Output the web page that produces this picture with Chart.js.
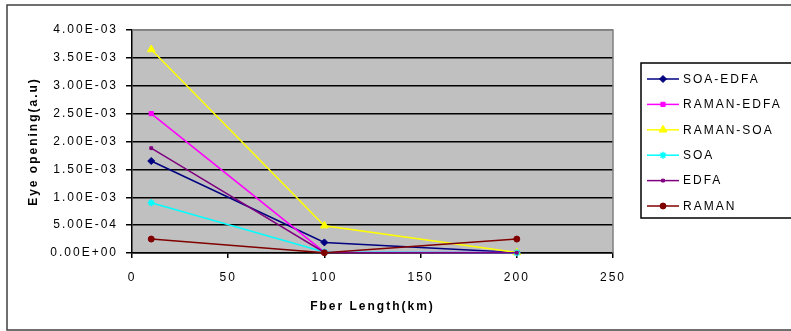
<!DOCTYPE html>
<html><head><meta charset="utf-8">
<script src="https://cdn.jsdelivr.net/npm/chart.js@4.4.1/dist/chart.umd.min.js"></script>
<style>html,body{margin:0;padding:0;background:#fff;overflow:hidden}</style>
</head><body>
<canvas id="c" width="791" height="331" style="display:block;width:791px;height:331px"></canvas>
<script>
// ---- data ----
const seriesNames = ['SOA-EDFA', 'RAMAN-EDFA', 'RAMAN-SOA', 'SOA', 'EDFA', 'RAMAN'];
const fiberLengthKm = [10, 100, 200];
const soaEdfa   = [1.65e-3, 1.9e-4, 1.0e-5];
const ramanEdfa = [2.50e-3, 1.5e-5, 1.0e-5];
const ramanSoa  = [3.65e-3, 4.9e-4, 1.0e-5];
const soa       = [9.0e-4,  2.0e-5, 5.0e-6];
const edfa      = [1.88e-3, 1.0e-5, 5.0e-6];
const raman     = [2.5e-4,  5.0e-6, 2.5e-4];
const yTickLabels = ['0.00E+00','5.00E-04','1.00E-03','1.50E-03','2.00E-03','2.50E-03','3.00E-03','3.50E-03','4.00E-03'];
const xTickLabels = ['0','50','100','150','200','250'];

const seriesValues = [soaEdfa, ramanEdfa, ramanSoa, soa, edfa, raman];
const seriesColors = ['#000080', '#FF00FF', '#FFFF00', '#00FFFF', '#800080', '#800000'];
const seriesMarkers = ['rectRot', 'rect', 'triangle', 'star', 'rect', 'circle'];
const seriesRadius = [3.5, 3, 4.5, 3.5, 2, 3];

const FONT = '"Liberation Sans", Arial, sans-serif';
const LS = '2px';

const datasets = seriesNames.map((name, i) => ({
  label: name,
  data: fiberLengthKm.map((x, k) => ({x: x, y: seriesValues[i][k]})),
  borderColor: seriesColors[i],
  backgroundColor: seriesColors[i],
  pointBackgroundColor: seriesColors[i],
  pointBorderColor: seriesColors[i],
  pointStyle: seriesMarkers[i],
  pointRadius: seriesRadius[i],
  pointBorderWidth: i === 3 ? 1.5 : 1,
  borderWidth: 1.5,
  tension: 0,
  fill: false,
  clip: false,
  order: seriesNames.length - i
}));

const framePlugin = {
  id: 'frame',
  beforeLayout(chart) { chart.ctx.letterSpacing = LS; },
  beforeDraw(chart) {
    const ctx = chart.ctx, a = chart.chartArea;
    ctx.letterSpacing = LS;
    ctx.save();
    ctx.fillStyle = '#fff';
    ctx.fillRect(0, 0, chart.width, chart.height);
    ctx.strokeStyle = '#404040';
    ctx.lineWidth = 1.5;
    ctx.strokeRect(7, 5, 820, 325);
    ctx.fillStyle = '#C0C0C0';
    ctx.fillRect(a.left, a.top, a.right - a.left, a.bottom - a.top);
    ctx.restore();
  },
  beforeDatasetsDraw(chart) {
    const ctx = chart.ctx, a = chart.chartArea;
    ctx.save();
    ctx.strokeStyle = '#808080';
    ctx.lineWidth = 1.5;
    ctx.beginPath();
    ctx.moveTo(a.left, a.top);
    ctx.lineTo(a.right, a.top);
    ctx.lineTo(a.right, a.bottom);
    ctx.stroke();
    ctx.restore();
  },
  afterDraw(chart) {
    const ctx = chart.ctx;
    ctx.save();
    ctx.letterSpacing = LS;
    ctx.fillStyle = '#fff';
    ctx.fillRect(641, 63, 170, 155);
    ctx.strokeStyle = '#000';
    ctx.lineWidth = 1.5;
    ctx.strokeRect(641, 63, 170, 155);
    chart.data.datasets.forEach((ds, i) => {
      const y = 79 + i * 25.4;
      ctx.strokeStyle = ds.borderColor;
      ctx.lineWidth = ds.borderWidth;
      ctx.beginPath();
      ctx.moveTo(647, y);
      ctx.lineTo(679, y);
      ctx.stroke();
      ctx.fillStyle = ds.pointBackgroundColor;
      ctx.strokeStyle = ds.pointBorderColor;
      ctx.lineWidth = ds.pointBorderWidth;
      Chart.helpers.drawPoint(ctx, {pointStyle: ds.pointStyle, radius: ds.pointRadius, borderWidth: ds.pointBorderWidth, rotation: 0}, 663, y);
      ctx.fillStyle = '#000';
      ctx.font = '12px ' + FONT;
      ctx.textAlign = 'left';
      ctx.textBaseline = 'middle';
      ctx.fillText(ds.label, 683, y + 0.5);
    });
    ctx.restore();
  }
};

new Chart(document.getElementById('c'), {
  type: 'line',
  data: {datasets: datasets},
  plugins: [framePlugin],
  options: {
    responsive: false,
    animation: false,
    devicePixelRatio: 1,
    layout: {padding: {left: 0, right: 178, top: 30, bottom: 0}},
    plugins: {legend: {display: false}, tooltip: {enabled: false}},
    scales: {
      x: {
        type: 'linear',
        min: 0, max: 250,
        afterFit(scale) { scale.height = 78; },
        ticks: {
          stepSize: 50,
          color: '#000',
          font: {family: FONT, size: 12},
          padding: 12,
          maxRotation: 0,
          callback: (v, i) => xTickLabels[i]
        },
        grid: {drawOnChartArea: false, drawTicks: true, tickLength: 5, color: '#000', lineWidth: 1.5},
        border: {color: '#000', width: 1.5},
        title: {display: true, text: 'Fber Length(km)', color: '#000', font: {family: FONT, size: 12, weight: 'bold'}, padding: {top: 0, bottom: 17}}
      },
      y: {
        type: 'linear',
        min: 0, max: 0.004,
        afterFit(scale) { scale.width = 132; },
        ticks: {
          stepSize: 0.0005,
          color: '#000',
          font: {family: FONT, size: 12},
          padding: 8,
          callback: (v, i) => yTickLabels[i]
        },
        grid: {
          color: (c) => (c.index === yTickLabels.length - 1 ? '#808080' : '#000'),
          tickColor: '#000',
          lineWidth: 1.5,
          tickLength: 6
        },
        border: {color: '#000', width: 1.5},
        title: {display: true, text: 'Eye opening(a.u)', color: '#000', font: {family: FONT, size: 12, weight: 'bold'}, padding: {top: 26, bottom: 0}}
      }
    }
  }
});
</script>
</body></html>
